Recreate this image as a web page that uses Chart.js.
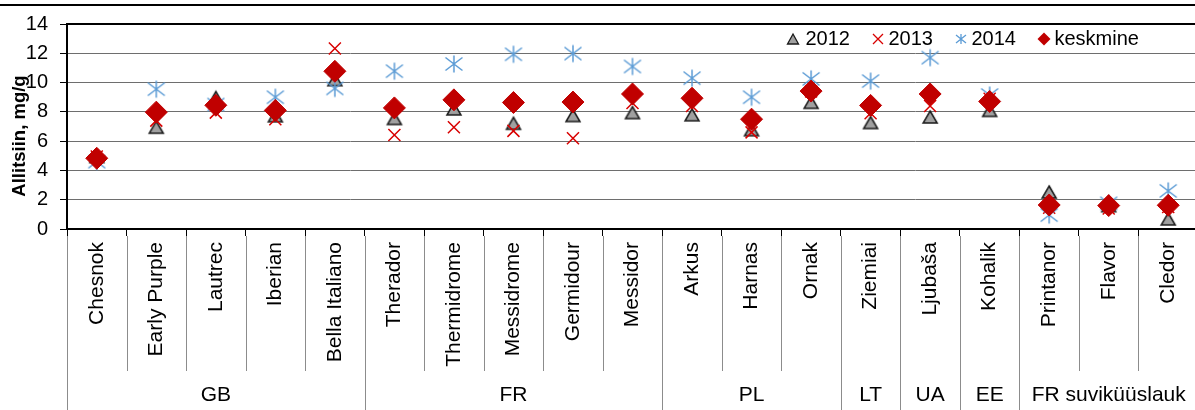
<!DOCTYPE html>
<html>
<head>
<meta charset="utf-8">
<script src="https://cdn.jsdelivr.net/npm/chart.js@4"></script>
<style>
  html, body { margin: 0; padding: 0; overflow: hidden; background: #fff; }
  canvas { display: block; }
</style>
</head>
<body>
<canvas id="chart" width="1210" height="410"></canvas>
<script>
// Varieties (x categories) and their country groups
const categories = ['Chesnok', 'Early Purple', 'Lautrec', 'Iberian', 'Bella Italiano',
  'Therador', 'Thermidrome', 'Messidrome', 'Germidour', 'Messidor',
  'Arkus', 'Harnas', 'Ornak', 'Ziemiai', 'Ljubaša', 'Kohalik',
  'Printanor', 'Flavor', 'Cledor'];
const groups = ['GB', 'FR', 'PL', 'LT', 'UA', 'EE', 'FR suviküüslauk'];
const groupSizes = [5, 5, 3, 1, 1, 1, 3];

// Allicin content, mg/g
const v2012 = [4.95, 6.95, 8.98, 7.73, 10.2, 7.55, 8.2, 7.22, 7.75, 7.95, 7.8, 6.78, 8.65, 7.27, 7.65, 8.1, 2.53, 1.6, 0.69];
const v2013 = [4.95, 7.4, 7.95, 7.5, 12.33, 6.42, 6.95, 6.7, 6.2, 8.6, 8.4, 6.6, 9.4, 7.9, 8.4, 8.9, 1.45, 1.4, 1.5];
const v2014 = [4.6, 9.55, 8.5, 9.0, 9.6, 10.78, 11.27, 11.93, 11.98, 11.1, 10.3, 9.0, 10.25, 10.1, 11.7, 9.15, 0.95, 1.75, 2.6];
const keskmine = [4.83, 7.98, 8.45, 8.1, 10.77, 8.27, 8.82, 8.64, 8.67, 9.22, 8.93, 7.5, 9.42, 8.44, 9.22, 8.71, 1.64, 1.6, 1.62];

const seriesNames = ['2012', '2013', '2014', 'keskmine'];
const yMin = 0, yMax = 14, yStep = 2;
const yTitle = 'Allitsiin, mg/g';

const FONT = "'Liberation Sans', Arial, Helvetica, sans-serif";
Chart.defaults.font.family = FONT;
Chart.defaults.color = '#000';

const RED = '#c00000';
const XRED = '#d80000';
const BLUE = '#5b9bd5';

// Small offscreen canvases used as point markers
function markerCanvas(w, h, paint) {
  const c = document.createElement('canvas');
  c.width = w; c.height = h;
  paint(c.getContext('2d'), w / 2, h / 2);
  return c;
}
function triangleMarker(hw, hh, lw) {
  return markerCanvas(2 * Math.ceil(hw + lw + 1), 2 * Math.ceil(hh + lw + 1), (g, cx, cy) => {
    g.beginPath();
    g.moveTo(cx, cy - hh);
    g.lineTo(cx + hw, cy + hh);
    g.lineTo(cx - hw, cy + hh);
    g.closePath();
    g.fillStyle = '#a0a0a0';
    g.fill();
    g.lineWidth = lw;
    g.strokeStyle = '#1a1a1a';
    g.stroke();
  });
}
function asteriskMarker(hw, hh, dh, lw) {
  return markerCanvas(2 * Math.ceil(hw + 2), 2 * Math.ceil(hh + 2), (g, cx, cy) => {
    g.strokeStyle = BLUE;
    g.lineWidth = lw;
    g.beginPath();
    g.moveTo(cx, cy - hh); g.lineTo(cx, cy + hh);
    g.moveTo(cx - hw, cy - dh); g.lineTo(cx + hw, cy + dh);
    g.moveTo(cx - hw, cy + dh); g.lineTo(cx + hw, cy - dh);
    g.stroke();
  });
}
function crossMarker(h, lw, color) {
  return markerCanvas(2 * Math.ceil(h + 2), 2 * Math.ceil(h + 2), (g, cx, cy) => {
    g.strokeStyle = color;
    g.lineWidth = lw;
    g.beginPath();
    g.moveTo(cx - h, cy - h); g.lineTo(cx + h, cy + h);
    g.moveTo(cx - h, cy + h); g.lineTo(cx + h, cy - h);
    g.stroke();
  });
}
function diamondMarker(r, color) {
  return markerCanvas(2 * Math.ceil(r + 1), 2 * Math.ceil(r + 1), (g, cx, cy) => {
    g.fillStyle = color;
    g.beginPath();
    g.moveTo(cx, cy - r); g.lineTo(cx + r, cy); g.lineTo(cx, cy + r); g.lineTo(cx - r, cy);
    g.closePath();
    g.fill();
  });
}

const triBig = triangleMarker(7, 6, 1.5);
const starBig = asteriskMarker(8.5, 8.5, 6.5, 1.5);
const legendMarks = [
  triangleMarker(5.5, 5, 1.3),
  crossMarker(5, 1.3, XRED),
  asteriskMarker(5, 5, 4, 1.3),
  diamondMarker(6.5, RED)
];

function series(label, data, extra) {
  return Object.assign({
    label, data,
    showLine: false,
    pointHoverRadius: extra.pointRadius,
  }, extra);
}

const datasets = [
  series(seriesNames[0], v2012, { pointStyle: triBig, pointRadius: 7, backgroundColor: '#a0a0a0', borderColor: '#1a1a1a', borderWidth: 1.5, order: 3 }),
  series(seriesNames[1], v2013, { pointStyle: 'crossRot', pointRadius: 8.5, backgroundColor: XRED, borderColor: XRED, borderWidth: 1.5, order: 2 }),
  series(seriesNames[2], v2014, { pointStyle: starBig, pointRadius: 8.5, backgroundColor: BLUE, borderColor: BLUE, borderWidth: 1.5, order: 1 }),
  series(seriesNames[3], keskmine, { pointStyle: 'rectRot', pointRadius: 11, backgroundColor: RED, borderColor: RED, borderWidth: 1, order: 0 }),
];

// Frame lines, category separators, country labels, legend and the value-axis title
const decor = {
  id: 'decor',
  afterDraw(chart) {
    const { ctx, chartArea: a, scales: { x } } = chart;
    ctx.save();

    // outer top rule and plot top border
    ctx.fillStyle = '#000';
    ctx.fillRect(0, 4, chart.width, 2);
    ctx.fillRect(a.left - 1, a.top - 1, a.right - a.left + 1, 2);

    // separators below the axis
    const n = categories.length;
    const groupEdges = new Set([0]);
    let acc = 0;
    groupSizes.forEach(s => { acc += s; groupEdges.add(acc); });
    ctx.strokeStyle = '#8c8c8c';
    ctx.lineWidth = 1;
    for (let i = 0; i <= n; i++) {
      const px = Math.round(x.getPixelForValue(i - 0.5)) + 0.5;
      const yEnd = groupEdges.has(i) ? chart.height : 371;
      ctx.beginPath();
      ctx.moveTo(px, a.bottom + 7);
      ctx.lineTo(px, yEnd);
      ctx.stroke();
    }

    // country group labels
    ctx.fillStyle = '#000';
    ctx.font = '21px ' + FONT;
    ctx.textAlign = 'center';
    ctx.textBaseline = 'middle';
    let start = 0;
    groups.forEach((g, k) => {
      const end = start + groupSizes[k];
      const cx = (x.getPixelForValue(start - 0.5) + x.getPixelForValue(end - 0.5)) / 2;
      ctx.fillText(g, cx, 395);
      start = end;
    });

    // legend inside the plot, upper right
    ctx.font = '20px ' + FONT;
    ctx.textAlign = 'left';
    let mx = 793;
    const ly = 39;
    seriesNames.forEach((name, i) => {
      const m = legendMarks[i];
      ctx.drawImage(m, Math.round(mx - m.width / 2), Math.round(ly - m.height / 2));
      const tx = mx + (i === 0 ? 12.5 : 10.5);
      ctx.fillText(name, tx, ly);
      mx = tx + ctx.measureText(name).width + 28;
    });

    // value-axis title
    ctx.translate(20, 136);
    ctx.rotate(-Math.PI / 2);
    ctx.font = 'bold 18.5px ' + FONT;
    ctx.textAlign = 'center';
    ctx.fillText(yTitle, 0, 0);
    ctx.restore();
  }
};

new Chart(document.getElementById('chart'), {
  type: 'line',
  data: { labels: categories, datasets },
  plugins: [decor],
  options: {
    responsive: false,
    animation: false,
    layout: { padding: { top: 19, right: 2, left: 0, bottom: 0 } },
    plugins: {
      tooltip: { enabled: false },
      legend: { display: false }
    },
    scales: {
      x: {
        type: 'category',
        offset: true,
        grid: { display: true, drawOnChartArea: false, drawTicks: true, tickLength: 7, color: '#000', offset: true },
        border: { display: true, color: '#000', width: 2 },
        ticks: { autoSkip: false, minRotation: 90, maxRotation: 90, padding: 6, color: '#000', font: { size: 21 } },
        afterFit(s) { s.height = 181; }
      },
      y: {
        min: yMin,
        max: yMax,
        ticks: { stepSize: yStep, padding: 12, color: '#000', font: { size: 20 } },
        grid: { color: '#6e6e6e', tickColor: '#000', tickLength: 7, lineWidth: 1 },
        border: { display: true, color: '#000', width: 2 },
        afterFit(s) { s.width = 67; }
      }
    }
  }
});
</script>
</body>
</html>
